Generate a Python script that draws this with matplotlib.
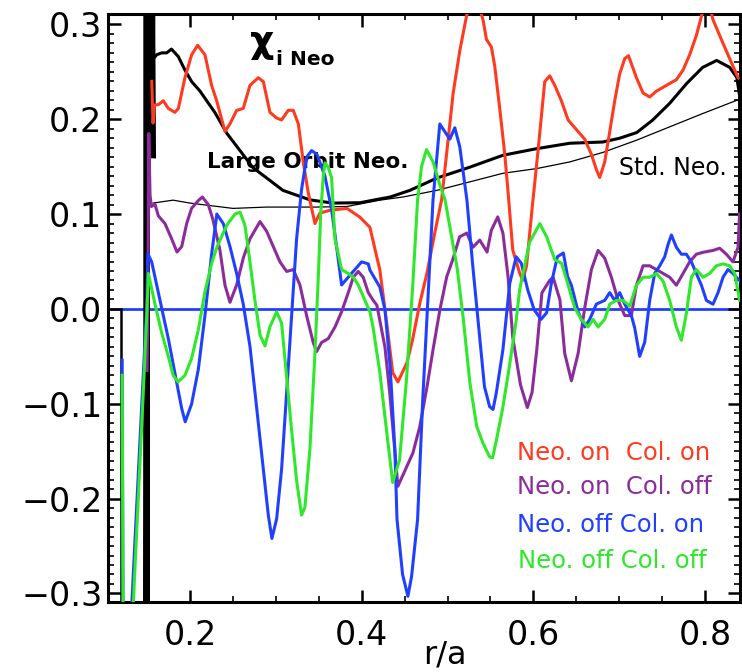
"""Ion heat diffusivity chi_i Neo vs r/a for four neo/collision settings"""
import numpy as np
import matplotlib
matplotlib.use("Agg")
import matplotlib.pyplot as plt
from matplotlib.ticker import MultipleLocator

# (r/a, chi) pairs
red_pts = [(0.155, 0.240), (0.1565, 0.196), (0.158, 0.215), (0.1627, 0.2154), (0.1685, 0.2195),
           (0.1743, 0.2114), (0.182, 0.2073), (0.186, 0.2114), (0.1937, 0.2438), (0.2015, 0.268),
           (0.2085, 0.278), (0.217, 0.268), (0.2248, 0.2357), (0.2307, 0.2195), (0.2404, 0.1871),
           (0.2462, 0.1952), (0.254, 0.2094), (0.2617, 0.2114), (0.2695, 0.2357), (0.2792, 0.2438),
           (0.2851, 0.2397), (0.2928, 0.2073), (0.3006, 0.2013), (0.3064, 0.1993), (0.3142, 0.2094),
           (0.32, 0.2094), (0.3259, 0.1952), (0.3317, 0.1548), (0.3375, 0.1224), (0.3414, 0.1062),
           (0.3453, 0.090), (0.351, 0.101), (0.3627, 0.104), (0.3826, 0.106), (0.3977, 0.0968),
           (0.4094, 0.086), (0.421, 0.041), (0.429, -0.015), (0.436, -0.067), (0.442, -0.077),
           (0.4525, -0.057), (0.459, -0.033), (0.4676, 0.006), (0.476, 0.038), (0.485, 0.080),
           (0.493, 0.115), (0.5065, 0.2276), (0.5142, 0.2721), (0.522, 0.3085), (0.5317, 0.335),
           (0.5414, 0.3044), (0.5453, 0.2842), (0.5511, 0.2761), (0.555, 0.2559), (0.5608, 0.2114),
           (0.5667, 0.1628), (0.5706, 0.1224), (0.576, 0.062), (0.584, 0.038), (0.5875, 0.030),
           (0.592, 0.045), (0.599, 0.110), (0.6055, 0.167), (0.6133, 0.2397), (0.6191, 0.2458),
           (0.625, 0.2357), (0.6327, 0.2195), (0.6405, 0.1993), (0.6522, 0.187), (0.6599, 0.179),
           (0.6677, 0.163), (0.6735, 0.147), (0.6774, 0.1386), (0.6832, 0.1548), (0.6891, 0.187),
           (0.6949, 0.2195), (0.7007, 0.2478), (0.7066, 0.264), (0.711, 0.267), (0.7202, 0.2438),
           (0.728, 0.2276), (0.7357, 0.2235), (0.7435, 0.2296), (0.7513, 0.2337), (0.759, 0.2377),
           (0.7668, 0.2417), (0.7746, 0.2519), (0.7823, 0.268), (0.7901, 0.2883), (0.796, 0.3085),
           (0.803, 0.330), (0.8095, 0.305), (0.8212, 0.280), (0.8328, 0.256), (0.8387, 0.244)]

purple_pts = [(0.1495, -0.065), (0.1505, 0.02), (0.1515, 0.185), (0.153, 0.12), (0.1545, 0.108),
              (0.1588, 0.1103), (0.1627, 0.0981), (0.1704, 0.090), (0.1782, 0.0739), (0.1844, 0.060),
              (0.1899, 0.0657), (0.1957, 0.090), (0.2015, 0.1062), (0.2093, 0.1143), (0.214, 0.118),
              (0.2209, 0.110), (0.2264, 0.094), (0.2345, 0.062), (0.2404, 0.025), (0.2462, 0.007),
              (0.254, 0.0253), (0.2617, 0.0536), (0.2695, 0.0739), (0.2812, 0.0921), (0.2889, 0.082),
              (0.2967, 0.0658), (0.3045, 0.0496), (0.3123, 0.0395), (0.32, 0.0415), (0.3278, 0.0253),
              (0.3356, -0.0071), (0.3433, -0.0354), (0.3472, -0.045), (0.353, -0.0354), (0.3608, -0.0313),
              (0.3686, -0.0192), (0.3764, -0.003), (0.3841, 0.017), (0.39, 0.0334), (0.3958, 0.0395),
              (0.4016, 0.0334), (0.4075, 0.0172), (0.4133, 0.009), (0.4175, 0.004), (0.4269, -0.04),
              (0.4327, -0.09), (0.4385, -0.15), (0.442, -0.187), (0.4525, -0.166), (0.4595, -0.152),
              (0.4676, -0.124), (0.476, -0.082), (0.483, -0.043), (0.491, -0.001), (0.499, 0.034),
              (0.506, 0.052), (0.514, 0.076), (0.5225, 0.080), (0.5295, 0.065), (0.5375, 0.0726),
              (0.546, 0.060), (0.551, 0.083), (0.5585, 0.097), (0.5645, 0.080), (0.5705, 0.034),
              (0.576, -0.03), (0.585, -0.08), (0.593, -0.104), (0.5985, -0.088), (0.604, -0.043),
              (0.61, 0.017), (0.619, 0.030), (0.623, 0.0334), (0.631, 0.0095), (0.6366, -0.047),
              (0.6444, -0.0758), (0.6522, -0.047), (0.6599, 0.0011), (0.6677, 0.0415), (0.6755, 0.0617),
              (0.6832, 0.0536), (0.691, 0.0334), (0.6988, 0.0091), (0.7066, -0.007), (0.7143, -0.007),
              (0.7202, 0.025), (0.728, 0.0455), (0.7357, 0.0455), (0.7435, 0.0415), (0.7513, 0.0374),
              (0.759, 0.0334), (0.7668, 0.025), (0.7746, 0.0374), (0.7823, 0.0496), (0.7901, 0.0577),
              (0.7979, 0.0597), (0.8095, 0.0617), (0.8173, 0.064), (0.8251, 0.0577), (0.8328, 0.0496),
              (0.8387, 0.065), (0.8405, 0.100)]

blue_pts = [(0.1205, -0.054), (0.1218, -0.40), (0.130, -0.40), (0.1318, -0.31), (0.1436, -0.096),
            (0.149, 0.0), (0.1505, 0.058), (0.1549, 0.0496), (0.1588, 0.0334), (0.1665, 0.0011),
            (0.1743, -0.0313), (0.182, -0.0677), (0.1899, -0.105), (0.194, -0.119), (0.2015, -0.1001),
            (0.2093, -0.0637), (0.217, -0.0071), (0.2248, 0.0577), (0.2309, 0.100), (0.2384, 0.090),
            (0.2462, 0.0658), (0.254, 0.0374), (0.2617, 0.005), (0.2695, -0.0394), (0.2773, -0.104),
            (0.2851, -0.169), (0.2909, -0.2174), (0.2951, -0.242), (0.3006, -0.2215), (0.3064, -0.169),
            (0.3123, -0.088), (0.3181, -0.007), (0.3239, 0.074), (0.3297, 0.126), (0.3356, 0.160),
            (0.3414, 0.167), (0.3476, 0.163), (0.353, 0.150), (0.3569, 0.140), (0.3647, 0.105),
            (0.3705, 0.0658), (0.3764, 0.0253), (0.3841, 0.0334), (0.3919, 0.0415), (0.3997, 0.0496),
            (0.4075, 0.0475), (0.4094, 0.041), (0.421, 0.023), (0.427, -0.001), (0.433, -0.061),
            (0.4385, -0.148), (0.441, -0.222), (0.4475, -0.280), (0.4537, -0.303), (0.458, -0.282),
            (0.465, -0.222), (0.471, -0.096), (0.477, 0.0095), (0.483, 0.115), (0.4909, 0.195),
            (0.4967, 0.187), (0.5026, 0.179), (0.5084, 0.191), (0.5142, 0.171), (0.5225, 0.115),
            (0.5295, 0.044), (0.537, -0.026), (0.543, -0.082), (0.549, -0.103), (0.553, -0.106),
            (0.5569, -0.088), (0.5645, -0.043), (0.5725, 0.027), (0.58, 0.055), (0.586, 0.048),
            (0.5935, 0.020), (0.601, -0.001), (0.609, -0.011), (0.6155, -0.004), (0.621, 0.027),
            (0.628, 0.055), (0.635, 0.059), (0.64, 0.034), (0.6444, 0.025), (0.6522, -0.003),
            (0.6599, -0.019), (0.6657, -0.011), (0.6735, 0.0051), (0.6832, 0.009), (0.6891, 0.0172),
            (0.6949, 0.009), (0.7007, 0.0172), (0.7066, 0.005), (0.7143, -0.007), (0.7182, -0.020),
            (0.724, -0.050), (0.7299, -0.035), (0.7357, 0.009), (0.7415, 0.0374), (0.7474, 0.0455),
            (0.7532, 0.055), (0.7571, 0.068), (0.761, 0.078), (0.7668, 0.065), (0.7726, 0.0577),
            (0.7784, 0.0577), (0.7843, 0.0496), (0.7901, 0.0374), (0.796, 0.025), (0.8018, 0.009),
            (0.8095, 0.005), (0.8154, 0.0172), (0.8212, 0.0334), (0.827, 0.0415), (0.8328, 0.0374),
            (0.8367, 0.0334), (0.8405, 0.030)]

green_pts = [(0.1205, -0.070), (0.1218, -0.40), (0.131, -0.40), (0.1335, -0.31), (0.145, -0.090),
             (0.1495, 0.0), (0.151, 0.0375), (0.1549, 0.0213), (0.1588, 0.005), (0.1665, -0.025),
             (0.1743, -0.050), (0.180, -0.070), (0.1856, -0.077), (0.1937, -0.070), (0.2015, -0.052),
             (0.2093, -0.022), (0.217, 0.018), (0.2248, 0.048), (0.2309, 0.065), (0.2423, 0.088),
             (0.252, 0.100), (0.258, 0.102), (0.2637, 0.088), (0.2695, 0.0496), (0.2753, 0.0091),
             (0.2812, -0.0273), (0.287, -0.039), (0.2928, -0.019), (0.3006, -0.003), (0.3064, -0.015),
             (0.3123, -0.0718), (0.3181, -0.128), (0.3239, -0.181), (0.3297, -0.2174), (0.3336, -0.209),
             (0.3394, -0.148), (0.3453, -0.047), (0.3492, 0.0334), (0.352, 0.100), (0.355, 0.140),
             (0.357, 0.154), (0.3605, 0.150), (0.3647, 0.1386), (0.3686, 0.074), (0.3764, 0.0415),
             (0.3841, 0.0374), (0.39, 0.0334), (0.3958, 0.0253), (0.4036, 0.009), (0.4094, -0.003),
             (0.413, -0.019), (0.421, -0.067), (0.429, -0.130), (0.436, -0.183), (0.444, -0.159),
             (0.452, -0.075), (0.4595, 0.027), (0.465, 0.115), (0.4696, 0.150), (0.4754, 0.168),
             (0.4831, 0.155), (0.4909, 0.131), (0.497, 0.115), (0.511, 0.044), (0.518, -0.008),
             (0.526, -0.078), (0.534, -0.124), (0.541, -0.141), (0.549, -0.156), (0.5525, -0.157),
             (0.557, -0.138), (0.564, -0.106), (0.572, -0.061), (0.58, -0.012), (0.584, 0.020),
             (0.5955, 0.070), (0.6075, 0.090), (0.6155, 0.076), (0.625, 0.052), (0.633, 0.048),
             (0.64, 0.027), (0.6483, 0.001), (0.656, -0.0111), (0.6638, -0.019), (0.6697, -0.011),
             (0.6755, -0.019), (0.6832, -0.011), (0.6891, 0.005), (0.6968, 0.009), (0.7046, 0.009),
             (0.7124, 0.003), (0.7202, 0.025), (0.728, 0.0334), (0.7357, 0.0334), (0.7435, 0.0374),
             (0.7513, 0.0293), (0.759, 0.009), (0.7668, -0.019), (0.7726, -0.033), (0.7784, -0.005),
             (0.7843, 0.0334), (0.7901, 0.0415), (0.7979, 0.0334), (0.8057, 0.0374), (0.8134, 0.0455),
             (0.8212, 0.0475), (0.829, 0.0455), (0.8348, 0.0374), (0.8406, 0.009)]

# large orbit neoclassical (thick black) and standard neoclassical (thin black)
large_orbit_pts = [(0.158, 0.265), (0.1607, 0.268), (0.1665, 0.270), (0.1724, 0.270), (0.178, 0.274),
                   (0.186, 0.266), (0.1937, 0.2518), (0.2015, 0.2397), (0.211, 0.230), (0.2287, 0.207),
                   (0.2427, 0.185), (0.273, 0.149), (0.308, 0.125), (0.3394, 0.115), (0.3662, 0.1116),
                   (0.398, 0.112), (0.4094, 0.114), (0.421, 0.116), (0.433, 0.118), (0.456, 0.125),
                   (0.4875, 0.138), (0.526, 0.1495), (0.5644, 0.162), (0.604, 0.169), (0.6425, 0.1747),
                   (0.681, 0.176), (0.7007, 0.180), (0.7206, 0.186), (0.739, 0.199), (0.759, 0.2168),
                   (0.779, 0.2379), (0.7975, 0.2547), (0.8138, 0.262), (0.829, 0.2547), (0.8373, 0.244),
                   (0.8405, 0.225), (0.8405, 0.100)]

std_neo_pts = [(0.1565, 0.1116), (0.1798, 0.1147), (0.1996, 0.1116), (0.2497, 0.106), (0.289, 0.1074),
               (0.3476, 0.1074), (0.3826, 0.108), (0.421, 0.1147), (0.4478, 0.118), (0.4875, 0.125),
               (0.526, 0.134), (0.5644, 0.143), (0.604, 0.148), (0.6425, 0.155), (0.681, 0.165),
               (0.7206, 0.178), (0.759, 0.192), (0.7975, 0.206), (0.8373, 0.220), (0.8405, 0.221)]

# noisy black traces piled up near the inner boundary
edge_lower_x = [0.1462, 0.1470, 0.1478, 0.1486, 0.1494, 0.1502, 0.1510, 0.1518]
edge_lower_y = [-0.35, 0.35, -0.35, 0.35, -0.35, 0.35, -0.35, 0.35]
edge_upper_x = [0.1515, 0.1525, 0.1535, 0.1545, 0.1555, 0.1565, 0.1575, 0.1585]
edge_upper_y = [0.32, 0.16, 0.32, 0.16, 0.32, 0.16, 0.32, 0.16]
inner_edge_x = [0.1195, 0.1195]
inner_edge_y = [0.0, -0.35]

legend_labels = ['Neo. on  Col. on', 'Neo. on  Col. off', 'Neo. off Col. on', 'Neo. off Col. off']
colors = ['#ff3a1e', '#8c2c9c', '#2040ff', '#2ee82a']

xticks = [0.2, 0.4, 0.6, 0.8]
xtick_labels = ['0.2', '0.4', '0.6', '0.8']
yticks = [-0.3, -0.2, -0.1, 0.0, 0.1, 0.2, 0.3]
ytick_labels = ['\u22120.3', '\u22120.2', '\u22120.1', '0.0', '0.1', '0.2', '0.3']

fig = plt.figure(figsize=(7.42, 6.72), dpi=100)
ax = fig.add_axes([0.1456, 0.1042, 0.8517, 0.875])

ax.axhline(0.0, color='#2040ff', lw=2.0, zorder=1)

ax.plot(inner_edge_x, inner_edge_y, color='k', lw=1.8, zorder=2)
ax.plot(edge_lower_x, edge_lower_y, color='k', lw=1.8, zorder=2)
ax.plot(edge_upper_x, edge_upper_y, color='k', lw=1.8, zorder=2)

x, y = np.array(std_neo_pts).T
ax.plot(x, y, color='k', lw=0.9, zorder=3)
x, y = np.array(large_orbit_pts).T
ax.plot(x, y, color='k', lw=2.2, zorder=3)

for pts, c in zip([red_pts, purple_pts, blue_pts, green_pts], colors):
    x, y = np.array(pts).T
    ax.plot(x, y, color=c, lw=2.2, zorder=4)

# labels inside the axes
ax.text(0.2835, 0.281, '\u03c7', fontsize=27, fontweight='bold', ha='center', va='center')
ax.text(0.3336, 0.263, 'i Neo', fontsize=14.5, fontweight='bold', ha='center', va='center')
ax.text(0.3365, 0.1547, 'Large Orbit Neo.', fontsize=15.5, fontweight='bold',
        ha='center', va='center')
ax.text(0.7625, 0.149, 'Std. Neo.', fontsize=17, ha='center', va='center')

leg_x = [0.5807, 0.5807, 0.5807, 0.582]
leg_y = [-0.1516, -0.1874, -0.2274, -0.2663]
for lx, ly, lab, c in zip(leg_x, leg_y, legend_labels, colors):
    ax.text(lx, ly, lab, color=c, fontsize=17.5, ha='left', va='center')

ax.set_xlim(0.104, 0.841)
ax.set_ylim(-0.309, 0.311)
ax.set_xticks(xticks)
ax.set_xticklabels(xtick_labels)
ax.set_yticks(yticks)
ax.set_yticklabels(ytick_labels)
ax.xaxis.set_minor_locator(MultipleLocator(0.05))
ax.yaxis.set_minor_locator(MultipleLocator(0.01))
ax.tick_params(which='both', direction='in', top=True, right=True)
ax.tick_params(axis='x', which='major', length=9, width=1.8, labelsize=24, pad=12)
ax.tick_params(axis='y', which='major', length=9, width=1.8, labelsize=24, pad=4)
ax.tick_params(which='minor', length=4, width=1.2)
for s in ax.spines.values():
    s.set_linewidth(2.2)

ax.set_xlabel('r/a', fontsize=23)
ax.xaxis.set_label_coords(0.533, -0.063)

plt.savefig('out.png', dpi=100)
